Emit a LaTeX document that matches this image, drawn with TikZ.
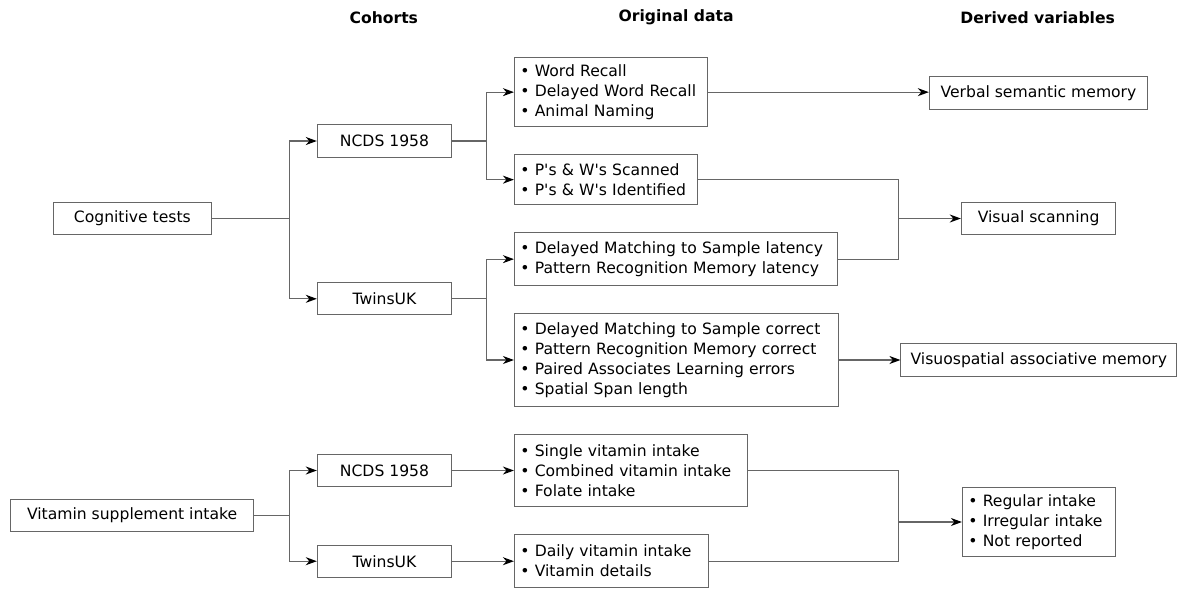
\documentclass[tikz,border=0pt]{standalone}
\usepackage{fontspec}
\setmainfont{DejaVu Sans}[Ligatures=TeXOff]
\usetikzlibrary{arrows.meta}
\begin{document}
\begin{tikzpicture}[x=1pt,y=-1pt,
  font=\fontsize{15.6}{20}\selectfont,
  box/.style={draw=black!60, line width=1pt, anchor=north west, inner sep=0pt, align=center},
  listbox/.style={box, inner xsep=6pt, inner ysep=0pt, align=left},
  hdr/.style={font=\fontsize{15.6}{20}\selectfont\bfseries},
  conn/.style={draw=black!60, line width=1.2pt},
  arr/.style={conn, -{Stealth[length=11pt,width=8pt,inset=3.5pt,color=black]}}
]
\useasboundingbox (0,0) rectangle (1183,590);

% headers
\node[hdr] (h1) at (383.8,18) {Cohorts};
\node[hdr] (h2) at (676.1,17) {Original data};
\node[hdr] (h3) at (1037.6,18) {Derived variables};

% cognitive nodes
\node[box, minimum width=157.3pt, minimum height=32.6pt] (cog) at (53.2,201.7) {Cognitive tests};
\node[box, minimum width=134.4pt, minimum height=32.4pt] (ncdsA) at (316.8,124.3) {NCDS 1958};
\node[box, minimum width=134.4pt, minimum height=32pt] (twinsA) at (316.8,282.3) {TwinsUK};
\node[listbox, text width=181pt, minimum height=68.7pt] (wr) at (513.9,57.3)
  {\textbullet\ Word Recall\\ \textbullet\ Delayed Word Recall\\ \textbullet\ Animal Naming};
\node[listbox, text width=171.4pt, minimum height=49.7pt] (ps) at (513.9,154.3)
  {\textbullet\ P's \& W's Scanned\\ \textbullet\ P's \& W's Identified};
\node[listbox, text width=311.4pt, minimum height=52.7pt] (lat) at (513.9,232.3)
  {\textbullet\ Delayed Matching to Sample latency\\ \textbullet\ Pattern Recognition Memory latency};
\node[listbox, text width=311.8pt, minimum height=92.4pt] (cor) at (513.9,313.3)
  {\textbullet\ Delayed Matching to Sample correct\\ \textbullet\ Pattern Recognition Memory correct\\ \textbullet\ Paired Associates Learning errors\\ \textbullet\ Spatial Span length};
\node[box, minimum width=218.4pt, minimum height=32.4pt] (vsm) at (928.8,76.3) {Verbal semantic memory};
\node[box, minimum width=154.6pt, minimum height=32.6pt] (vis) at (960.8,201.7) {Visual scanning};
\node[box, minimum width=275.8pt, minimum height=32.7pt] (vsa) at (900.4,343.3) {Visuospatial associative memory};

% vitamin nodes
\node[box, minimum width=243.4pt, minimum height=32.3pt] (vit) at (9.9,498.7) {Vitamin supplement intake};
\node[box, minimum width=134.4pt, minimum height=32.6pt] (ncdsB) at (316.8,453.7) {NCDS 1958};
\node[box, minimum width=134.4pt, minimum height=32pt] (twinsB) at (316.8,544.7) {TwinsUK};
\node[listbox, text width=221.4pt, minimum height=72pt] (sv) at (513.9,434)
  {\textbullet\ Single vitamin intake\\ \textbullet\ Combined vitamin intake\\ \textbullet\ Folate intake};
\node[listbox, text width=181.8pt, minimum height=52.7pt] (dv) at (513.9,534.3)
  {\textbullet\ Daily vitamin intake\\ \textbullet\ Vitamin details};
\node[listbox, text width=140.7pt, minimum height=68.4pt] (reg) at (961.9,487.3)
  {\textbullet\ Regular intake\\ \textbullet\ Irregular intake\\ \textbullet\ Not reported};

% branch coordinates
\coordinate (bx) at (289.7,0);
\coordinate (cx) at (486.7,0);
\coordinate (jx) at (898.8,0);

% cognitive connectors
\draw[conn] (cog.east) -- (cog.east -| bx);
\draw[arr] (cog.east -| bx) |- (ncdsA.west);
\draw[arr] (cog.east -| bx) |- (twinsA.west);
\draw[conn] (ncdsA.east) -- (ncdsA.east -| cx);
\draw[arr] (ncdsA.east -| cx) |- (wr.west);
\draw[arr] (ncdsA.east -| cx) |- (ps.west);
\draw[conn] (twinsA.east) -- (twinsA.east -| cx);
\draw[arr] (twinsA.east -| cx) |- (lat.west);
\draw[arr] (twinsA.east -| cx) |- (cor.west);
\draw[arr] (wr.east) -- (wr.east -| vsm.west);
\draw[conn] (ps.east) -| (jx |- lat.east) -- (lat.east);
\draw[arr] (jx |- vis.west) -- (vis.west);
\draw[arr] (cor.east) -- (cor.east -| vsa.west);

% vitamin connectors
\draw[conn] (vit.east) -- (vit.east -| bx);
\draw[arr] (vit.east -| bx) |- (ncdsB.west);
\draw[arr] (vit.east -| bx) |- (twinsB.west);
\draw[arr] (ncdsB.east) -- (ncdsB.east -| sv.west);
\draw[arr] (twinsB.east) -- (twinsB.east -| dv.west);
\draw[conn] (sv.east) -| (jx |- dv.east) -- (dv.east);
\draw[arr] (jx |- reg.west) -- (reg.west);
\end{tikzpicture}
\end{document}
